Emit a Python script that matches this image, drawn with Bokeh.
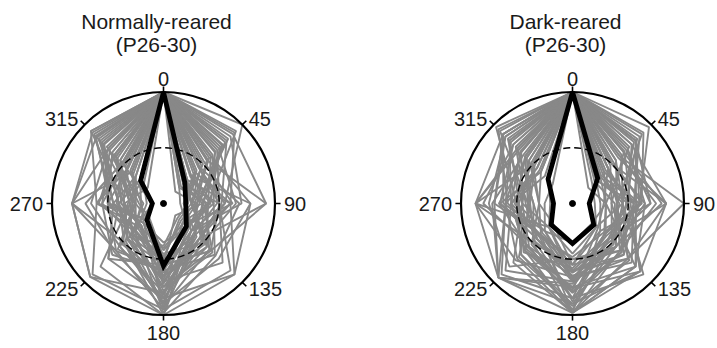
import numpy as np
from bokeh.plotting import figure
from bokeh.layouts import row
from bokeh.core.properties import value
from bokeh.embed import file_html
from bokeh.resources import INLINE

# Stimulus directions (degrees, 0 at top, clockwise) and their labels
directions = [0, 45, 90, 135, 180, 225, 270, 315]
direction_labels = ["0", "45", "90", "135", "180", "225", "270", "315"]

normal_title = ["Normally-reared", "(P26-30)"]
dark_title = ["Dark-reared", "(P26-30)"]

# Population average of normalized responses
normal_mean = [1.00, 0.27, 0.20, 0.29, 0.56, 0.21, 0.10, 0.29]
dark_mean = [1.00, 0.32, 0.15, 0.27, 0.36, 0.27, 0.17, 0.31]

# Normalized responses of individual cells, one row per cell
normal_cells = [
    [1.00, 0.92, 0.40, 0.35, 0.60, 0.30, 0.35, 0.92],
    [1.00, 1.00, 0.55, 0.45, 0.75, 0.40, 0.30, 0.65],
    [1.00, 0.88, 0.92, 0.60, 0.55, 0.35, 0.45, 0.80],
    [1.00, 0.60, 0.78, 0.90, 1.00, 0.93, 0.82, 0.70],
    [1.00, 0.45, 0.50, 0.85, 0.95, 0.90, 0.60, 0.92],
    [1.00, 0.75, 0.35, 0.40, 1.00, 0.50, 0.82, 0.85],
    [1.00, 0.30, 0.25, 0.55, 0.80, 0.93, 0.82, 0.40],
    [1.00, 0.55, 0.92, 0.45, 0.70, 0.30, 0.60, 0.50],
    [1.00, 0.40, 0.60, 0.90, 0.85, 0.55, 0.25, 0.35],
    [1.00, 0.65, 0.45, 0.30, 0.95, 0.25, 0.50, 0.75],
    [1.00, 0.82, 0.30, 0.25, 0.60, 0.60, 0.82, 0.90],
    [1.00, 0.35, 0.78, 0.70, 0.90, 0.45, 0.40, 0.30],
    [1.00, 0.50, 0.20, 0.35, 1.00, 0.80, 0.30, 0.60],
    [1.00, 0.25, 0.50, 0.60, 0.75, 0.20, 0.60, 0.45],
    [1.00, 0.70, 0.65, 0.50, 0.85, 0.70, 0.45, 0.88],
    [1.00, 0.20, 0.15, 0.30, 0.60, 0.25, 0.20, 0.30],
    [1.00, 0.30, 0.25, 0.20, 0.50, 0.35, 0.15, 0.25],
    [1.00, 0.15, 0.30, 0.40, 0.70, 0.20, 0.25, 0.40],
    [1.00, 0.40, 0.20, 0.25, 0.40, 0.30, 0.35, 0.20],
    [1.00, 0.25, 0.35, 0.15, 0.55, 0.45, 0.10, 0.55],
    [1.00, 0.60, 0.40, 0.55, 0.65, 0.35, 0.50, 0.65],
    [1.00, 0.45, 0.55, 0.35, 0.90, 0.50, 0.40, 0.78],
    [1.00, 0.78, 0.35, 0.50, 0.45, 0.40, 0.30, 0.55],
    [1.00, 0.35, 0.45, 0.65, 0.60, 0.65, 0.55, 0.50],
    [1.00, 0.55, 0.30, 0.40, 0.80, 0.55, 0.65, 0.70],
    [1.00, 0.20, 0.40, 0.30, 0.35, 0.25, 0.45, 0.35],
    [1.00, 0.68, 0.50, 0.75, 0.70, 0.45, 0.35, 0.60],
    [1.00, 0.30, 0.60, 0.45, 0.95, 0.60, 0.50, 0.45],
    [1.00, 0.48, 0.25, 0.60, 0.55, 0.70, 0.40, 0.82],
    [1.00, 0.85, 0.70, 0.35, 0.65, 0.35, 0.25, 0.70],
    [1.00, 0.58, 0.28, 0.22, 0.48, 0.18, 0.22, 0.62],
    [1.00, 0.72, 0.42, 0.28, 0.58, 0.32, 0.28, 0.48],
    [1.00, 0.38, 0.18, 0.42, 0.82, 0.42, 0.18, 0.72],
    [1.00, 0.62, 0.48, 0.38, 0.72, 0.28, 0.38, 0.58],
    [1.00, 0.28, 0.38, 0.58, 0.92, 0.48, 0.28, 0.38],
    [1.00, 0.52, 0.62, 0.28, 0.42, 0.22, 0.48, 0.86],
    [1.00, 0.80, 0.52, 0.45, 0.88, 0.62, 0.70, 0.52],
    [1.00, 0.42, 0.22, 0.18, 0.38, 0.40, 0.55, 0.68],
    [1.00, 0.66, 0.36, 0.62, 0.78, 0.38, 0.20, 0.42],
    [1.00, 0.22, 0.28, 0.48, 0.66, 0.52, 0.32, 0.28],
    [1.00, 0.90, 0.60, 0.40, 0.52, 0.42, 0.40, 0.76],
    [1.00, 0.34, 0.42, 0.24, 0.86, 0.28, 0.42, 0.52],
    [1.00, 0.56, 0.26, 0.52, 0.62, 0.58, 0.26, 0.84],
    [1.00, 0.46, 0.68, 0.66, 0.98, 0.36, 0.58, 0.62],
    [1.00, 0.74, 0.32, 0.32, 0.68, 0.46, 0.36, 0.46],
]

dark_cells = [
    [1.00, 0.97, 0.60, 0.40, 0.70, 0.35, 0.50, 0.97],
    [1.00, 0.80, 0.57, 0.80, 0.98, 0.94, 0.87, 0.88],
    [1.00, 0.60, 1.00, 0.70, 0.60, 0.45, 0.40, 0.60],
    [1.00, 0.75, 0.84, 0.86, 0.98, 0.60, 0.55, 0.80],
    [1.00, 0.45, 0.50, 0.86, 0.90, 0.94, 0.70, 0.88],
    [1.00, 0.88, 0.40, 0.60, 0.98, 0.50, 0.87, 0.70],
    [1.00, 0.50, 0.84, 0.45, 0.75, 0.94, 0.60, 0.45],
    [1.00, 0.35, 0.30, 0.80, 0.98, 0.40, 0.30, 0.55],
    [1.00, 0.70, 0.65, 0.55, 0.50, 0.80, 0.75, 0.85],
    [1.00, 0.55, 0.45, 0.90, 0.85, 0.55, 0.45, 0.65],
    [1.00, 0.80, 0.70, 0.35, 0.98, 0.70, 0.60, 0.78],
    [1.00, 0.40, 0.60, 0.65, 0.60, 0.30, 0.87, 0.50],
    [1.00, 0.65, 0.35, 0.50, 0.80, 0.60, 0.40, 0.92],
    [1.00, 0.30, 0.50, 0.40, 0.70, 0.85, 0.55, 0.35],
    [1.00, 0.85, 0.55, 0.75, 0.65, 0.45, 0.65, 0.75],
    [1.00, 0.25, 0.20, 0.30, 0.45, 0.30, 0.20, 0.30],
    [1.00, 0.30, 0.25, 0.35, 0.55, 0.25, 0.30, 0.40],
    [1.00, 0.20, 0.30, 0.25, 0.35, 0.35, 0.25, 0.25],
    [1.00, 0.45, 0.40, 0.55, 0.90, 0.65, 0.50, 0.60],
    [1.00, 0.60, 0.75, 0.60, 0.55, 0.50, 0.35, 0.70],
    [1.00, 0.35, 0.45, 0.70, 0.98, 0.75, 0.45, 0.55],
    [1.00, 0.75, 0.50, 0.45, 0.60, 0.40, 0.70, 0.85],
    [1.00, 0.50, 0.65, 0.80, 0.75, 0.60, 0.55, 0.45],
    [1.00, 0.40, 0.30, 0.40, 0.85, 0.90, 0.60, 0.65],
    [1.00, 0.65, 0.80, 0.55, 0.70, 0.45, 0.40, 0.50],
    [1.00, 0.55, 0.40, 0.65, 0.65, 0.55, 0.80, 0.75],
    [1.00, 0.80, 0.60, 0.50, 0.95, 0.65, 0.50, 0.60],
    [1.00, 0.30, 0.55, 0.60, 0.50, 0.40, 0.65, 0.40],
    [1.00, 0.62, 0.45, 0.30, 0.55, 0.38, 0.35, 0.70],
    [1.00, 0.72, 0.30, 0.42, 0.68, 0.30, 0.45, 0.82],
    [1.00, 0.42, 0.55, 0.62, 0.80, 0.52, 0.30, 0.50],
    [1.00, 0.90, 0.62, 0.38, 0.48, 0.42, 0.58, 0.94],
    [1.00, 0.48, 0.35, 0.72, 0.92, 0.68, 0.38, 0.58],
    [1.00, 0.68, 0.70, 0.48, 0.62, 0.35, 0.62, 0.88],
    [1.00, 0.38, 0.42, 0.50, 0.72, 0.94, 0.72, 0.62],
    [1.00, 0.82, 0.48, 0.62, 0.85, 0.48, 0.42, 0.72],
    [1.00, 0.52, 0.62, 0.42, 0.58, 0.62, 0.48, 0.52],
    [1.00, 0.58, 0.84, 0.70, 0.68, 0.40, 0.55, 0.66],
    [1.00, 0.28, 0.38, 0.55, 0.62, 0.48, 0.38, 0.48],
    [1.00, 0.66, 0.52, 0.86, 0.76, 0.58, 0.48, 0.80],
    [1.00, 0.45, 0.28, 0.32, 0.78, 0.56, 0.66, 0.58],
    [1.00, 0.78, 0.45, 0.52, 0.66, 0.72, 0.87, 0.68],
    [1.00, 0.36, 0.58, 0.46, 0.88, 0.42, 0.52, 0.42],
]

PX = 111.5       # pixels per unit radius
H = 348          # figure height
CY = 203         # polar centre, pixels from the top
FONT = "Liberation Sans"
LABEL_PT = 20
TITLE_PT = 21
GRAY = "#888888"
LIFT = 6.5 / PX  # raise texts so their glyphs sit on the intended baseline

theta = np.deg2rad(directions)


def closed_xy(vals):
    r = np.asarray(vals + vals[:1], dtype=float)
    t = np.append(theta, theta[0])
    return r * np.sin(t), r * np.cos(t)


def make_panel(title_lines, cells, mean, width, cx):
    p = figure(width=width, height=H,
               x_range=(-cx / PX, (width - cx) / PX),
               y_range=(-(H - CY) / PX, CY / PX),
               output_backend="svg", toolbar_location=None,
               x_axis_location=None, y_axis_location=None,
               min_border=0, outline_line_color=None,
               background_fill_color="white", border_fill_color="white")
    p.grid.visible = False

    # individual cells
    xs, ys = zip(*(closed_xy(c) for c in cells))
    p.multi_line(xs=[list(x) for x in xs], ys=[list(y) for y in ys],
                 line_color=GRAY, line_width=1.9)

    # half-maximum reference ring and outer ring
    p.circle(x=[0], y=[0], radius=0.5, fill_color=None,
             line_color="black", line_width=1.4, line_dash="7 4")
    p.circle(x=[0], y=[0], radius=1.0, fill_color=None,
             line_color="black", line_width=2.2)

    # direction ticks
    p.segment(x0=np.sin(theta), y0=np.cos(theta),
              x1=1.05 * np.sin(theta), y1=1.05 * np.cos(theta),
              line_color="black", line_width=1.6)

    # average tuning curve
    mx, my = closed_xy(mean)
    p.line(mx, my, line_color="black", line_width=4.8, line_join="miter")
    p.scatter([0], [0], size=6, color="black")

    # direction labels
    cap = 0.716 * LABEL_PT / PX
    R = 1.08
    lx, ly, la = [], [], []
    for d, t in zip(directions, theta):
        s, c = np.sin(t), np.cos(t)
        if d == 0:
            lx.append(0); ly.append(1.06); la.append("center")
        elif d == 180:
            lx.append(0); ly.append(-1.09 - cap); la.append("center")
        else:
            lx.append(R * s)
            ly.append(R * c - cap / 2)
            la.append("left" if s > 0 else "right")
    for x, y, a, lab in zip(lx, ly, la, direction_labels):
        p.text(x=[x], y=[y + LIFT], text=[lab], text_align=a,
               text_baseline="alphabetic", text_font=value(FONT),
               text_font_size=f"{LABEL_PT}px", text_color="#1a1a1a")

    # two-line title
    tx = -7 / PX
    p.text(x=[tx, tx], y=[(CY - 27) / PX + LIFT, (CY - 50) / PX + LIFT],
           text=title_lines, text_align="center", text_baseline="alphabetic",
           text_font=value(FONT), text_font_size=f"{TITLE_PT}px",
           text_color="#1a1a1a")
    return p


left = make_panel(normal_title, normal_cells, normal_mean, 358, 163)
right = make_panel(dark_title, dark_cells, dark_mean, 359, 214)

layout = row(left, right, spacing=0)
open("out.html", "w").write(file_html(layout, INLINE))
